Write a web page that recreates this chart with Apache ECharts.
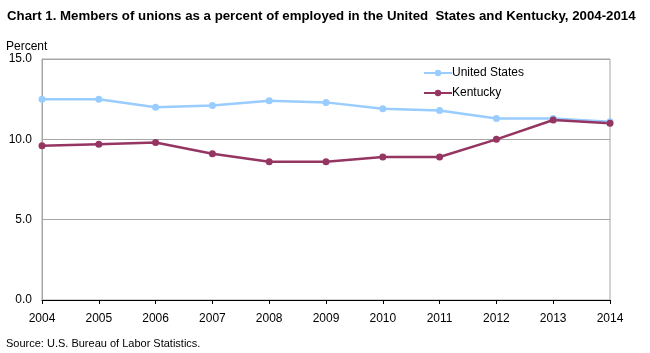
<!DOCTYPE html>
<html>
<head>
<meta charset="utf-8">
<script src="https://cdn.jsdelivr.net/npm/echarts@6/dist/echarts.min.js"></script>
<style>
  html, body { margin: 0; padding: 0; background: #fff; }
  #chart { width: 650px; height: 353px; }
</style>
</head>
<body>
<div id="chart"></div>
<script>
const years = ["2004", "2005", "2006", "2007", "2008", "2009", "2010", "2011", "2012", "2013", "2014"];
const unitedStates = [12.5, 12.5, 12.0, 12.1, 12.4, 12.3, 11.9, 11.8, 11.3, 11.3, 11.1];
const kentucky = [9.6, 9.7, 9.8, 9.1, 8.6, 8.6, 8.9, 8.9, 10.0, 11.2, 11.0];

const font = "Liberation Sans, Arial, sans-serif";

const chart = echarts.init(document.getElementById("chart"));

chart.setOption({
  animation: false,
  textStyle: { fontFamily: font },
  title: [
    {
      text: "Chart 1. Members of unions as a percent of employed in the United  States and Kentucky, 2004-2014",
      left: 2,
      top: 5,
      textStyle: { fontSize: 13.25, fontWeight: "bold", color: "#000" }
    },
    {
      text: "Percent",
      left: 1,
      top: 36,
      textStyle: { fontSize: 12, fontWeight: "normal", color: "#000" }
    },
    {
      text: "Source: U.S. Bureau of Labor Statistics.",
      left: 1,
      top: 333,
      textStyle: { fontSize: 11, fontWeight: "normal", color: "#000" }
    }
  ],
  legend: {
    orient: "vertical",
    left: 418,
    top: 62,
    itemWidth: 28,
    itemHeight: 8,
    itemGap: 8,
    textStyle: { fontSize: 12, color: "#000", padding: [0, 0, 0, -5] },
    data: ["United States", "Kentucky"]
  },
  grid: {
    left: 42,
    right: 40,
    top: 59,
    bottom: 53,
    show: true,
    borderColor: "#a6a6a6",
    borderWidth: 1
  },
  xAxis: {
    type: "category",
    data: years,
    boundaryGap: false,
    axisLine: { lineStyle: { color: "#000", width: 1 } },
    axisTick: { show: true, length: 4, lineStyle: { color: "#000" } },
    axisLabel: { fontSize: 12, color: "#000", margin: 13 },
    splitLine: { show: false }
  },
  yAxis: {
    type: "value",
    min: 0,
    max: 15,
    interval: 5,
    axisLine: { show: true, lineStyle: { color: "#a6a6a6" } },
    axisTick: { show: false },
    axisLabel: {
      fontSize: 12,
      color: "#000",
      margin: 10,
      formatter: v => v.toFixed(1)
    },
    splitLine: { show: true, lineStyle: { color: "#a6a6a6", width: 1 } }
  },
  series: [
    {
      name: "United States",
      type: "line",
      data: unitedStates,
      color: "#99ccff",
      symbol: "circle",
      symbolSize: 7,
      lineStyle: { width: 2.5 }
    },
    {
      name: "Kentucky",
      type: "line",
      data: kentucky,
      color: "#953562",
      symbol: "circle",
      symbolSize: 7,
      lineStyle: { width: 2.5 }
    }
  ]
});
</script>
</body>
</html>
